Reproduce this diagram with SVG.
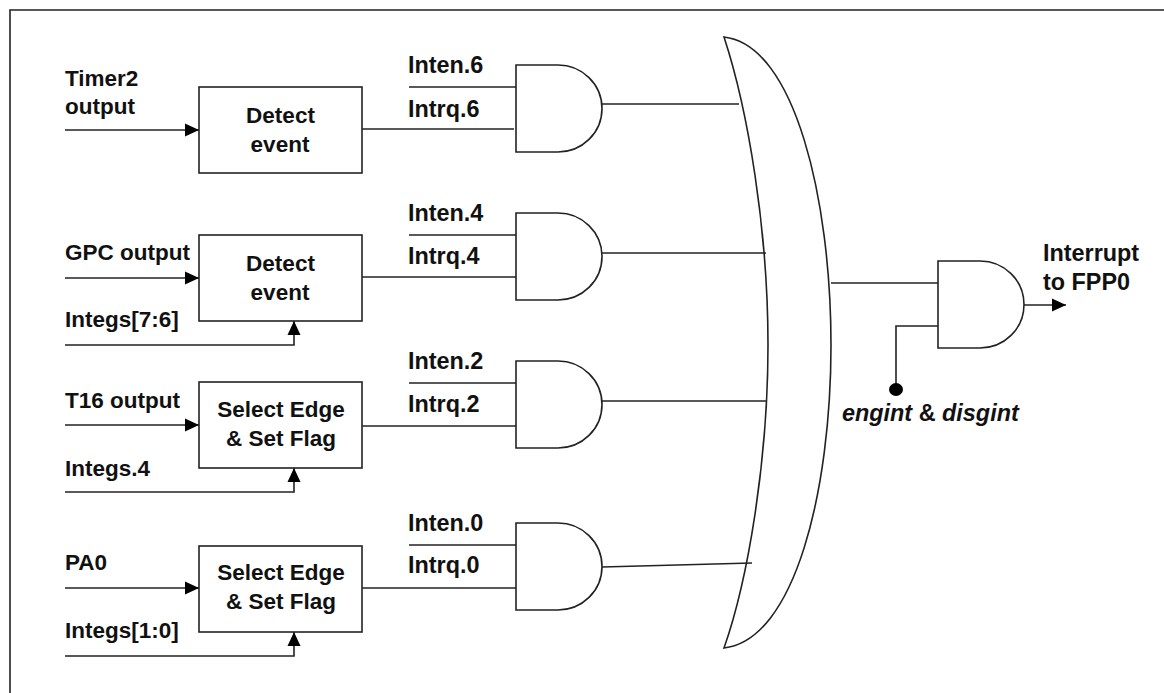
<svg xmlns="http://www.w3.org/2000/svg" width="1164" height="693" viewBox="0 0 1164 693">
<defs>
<marker id="arr" markerUnits="userSpaceOnUse" markerWidth="14" markerHeight="14" refX="14" refY="7" orient="auto"><path d="M0 0.500L14 7L0 13.500Z" fill="#000"/></marker>
<path id="and" d="M516 0H558C582 0 602 19 602 43.500C602 68 582 87 558 87H516Z"/>
</defs>
<style>
text{font-family:"Liberation Sans",Arial,sans-serif;font-size:22.500px;font-weight:bold;fill:#111}
.m{text-anchor:middle}
.b{font-size:23.400px}
.s{fill:#fff;stroke:#222;stroke-width:1.600}
.l{fill:none;stroke:#222;stroke-width:1.600}
.a{marker-end:url(#arr)}
</style>
<rect width="1164" height="693" fill="#fff"/>
<path id="frame" d="M10 693V10H1164" fill="none" stroke="#222" stroke-width="1.600"/>
<g id="connectors">
<path class="l a" d="M65 130H199"/><path class="l" d="M362 129H514"/><path class="l" d="M409 87H516"/><path class="l" d="M602 104H739"/>
<path class="l a" d="M65 278H199"/><path class="l" d="M362 277H516"/><path class="l" d="M409 235H516"/><path class="l" d="M602 253H766"/>
<path class="l a" d="M65 345H294V321"/>
<path class="l a" d="M65 425H199"/><path class="l" d="M362 426H516"/><path class="l" d="M409 383H516"/><path class="l" d="M602 401H766"/>
<path class="l a" d="M65 492H294V468"/>
<path class="l a" d="M65 588H199"/><path class="l" d="M362 588H516"/><path class="l" d="M409 545H516"/><path class="l" d="M602 567L752 563"/>
<path class="l a" d="M65 656H294V632"/>
<path class="l" d="M831 283H938"/><path class="l" d="M938 326H896V389"/><path class="l a" d="M1024 305H1066"/>
<ellipse cx="896" cy="389.500" rx="7" ry="6.500" fill="#000"/>
</g>
<g id="or"><path class="l" d="M724 37C795 45 831 200 831 345C831 490 795 640 724 648C748 580 768 460 768 345C768 230 748 110 724 37Z"/></g>
<g id="det1"><rect class="s" x="199" y="87" width="163" height="86"/><text class="m" x="280.500" y="123">Detect</text><text class="m" x="280" y="152">event</text></g>
<g id="det2"><rect class="s" x="199" y="235" width="163" height="86"/><text class="m" x="280.500" y="271">Detect</text><text class="m" x="280" y="300">event</text></g>
<g id="sel1"><rect class="s" x="199" y="382" width="163" height="86"/><text class="m" x="281" y="417">Select Edge</text><text class="m" x="281" y="446">&amp; Set Flag</text></g>
<g id="sel2"><rect class="s" x="199" y="546" width="163" height="86"/><text class="m" x="281" y="580">Select Edge</text><text class="m" x="281" y="609">&amp; Set Flag</text></g>
<g id="and6"><use href="#and" class="s" y="65"/></g>
<g id="and4"><use href="#and" class="s" y="213"/></g>
<g id="and2"><use href="#and" class="s" y="361"/></g>
<g id="and0"><use href="#and" class="s" y="523"/></g>
<g id="andout"><use href="#and" class="s" x="422" y="261"/></g>
<g id="labels">
<text x="65" y="86">Timer2</text><text x="65" y="114">output</text>
<text x="65" y="260">GPC output</text><text x="65" y="327">Integs[7:6]</text>
<text x="65" y="408">T16 output</text><text x="65" y="476">Integs.4</text>
<text x="65" y="570">PA0</text><text x="65" y="638">Integs[1:0]</text>
<text class="b" x="408" y="73">Inten.6</text><text class="b" x="408" y="117">Intrq.6</text>
<text class="b" x="408" y="221">Inten.4</text><text class="b" x="408" y="264">Intrq.4</text>
<text class="b" x="408" y="369">Inten.2</text><text class="b" x="408" y="412">Intrq.2</text>
<text class="b" x="408" y="531">Inten.0</text><text class="b" x="408" y="573">Intrq.0</text>
<text class="b" x="1043" y="261">Interrupt</text><text class="b" x="1043" y="290">to FPP0</text>
<text class="b" x="842" y="421"><tspan font-style="italic">engint</tspan> &amp; <tspan font-style="italic">disgint</tspan></text>
</g>
</svg>
